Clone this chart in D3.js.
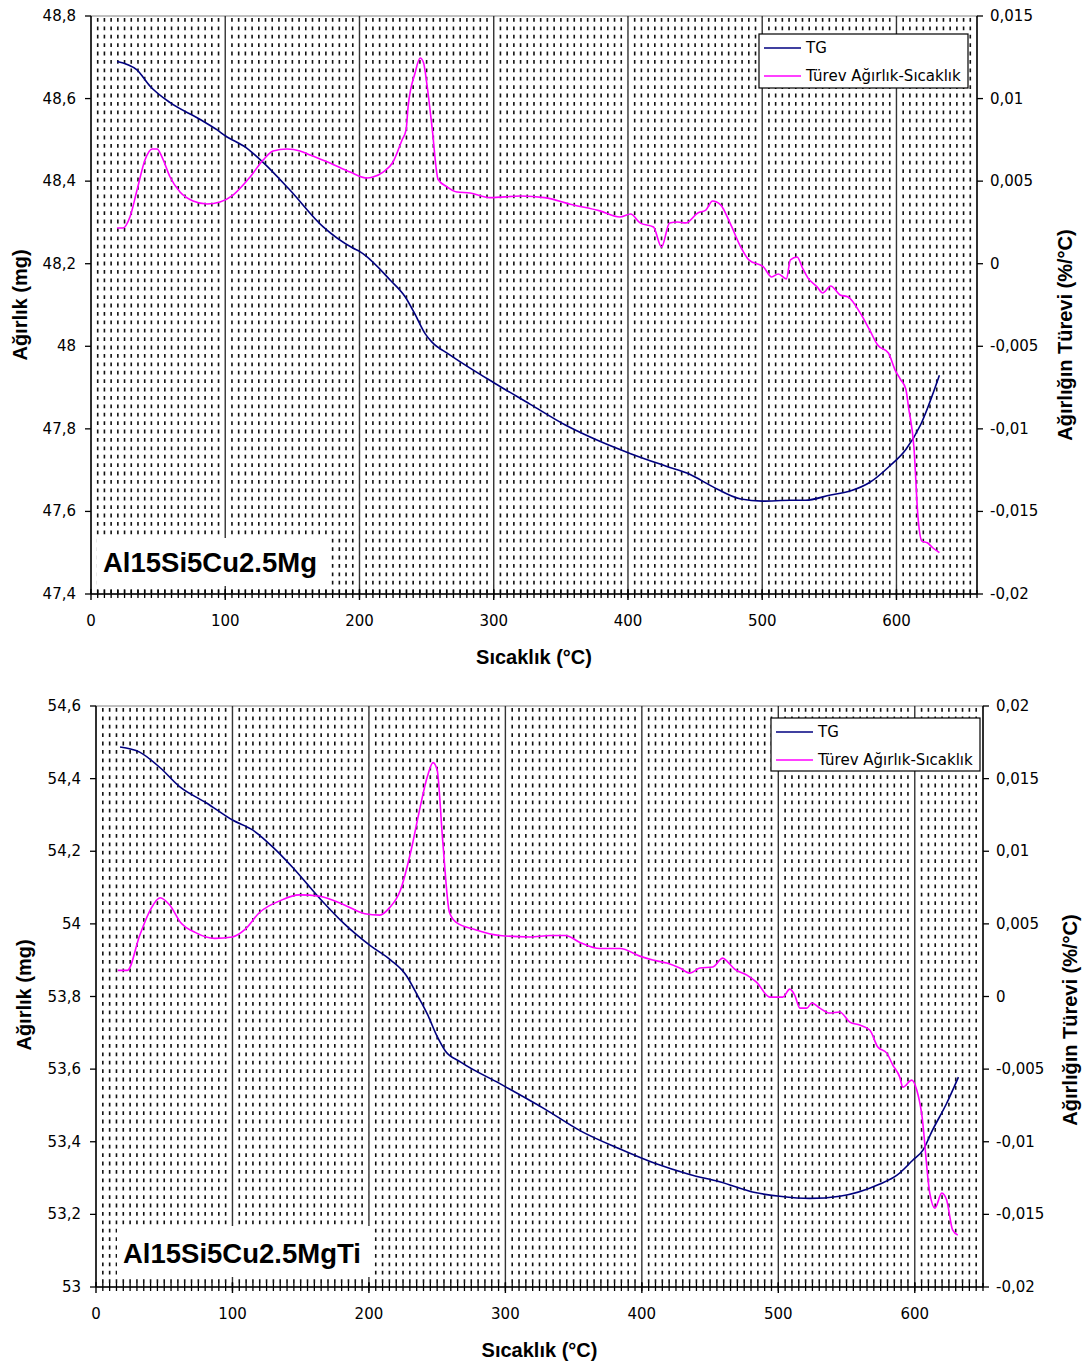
<!DOCTYPE html>
<html>
<head>
<meta charset="utf-8">
<script src="https://cdn.jsdelivr.net/npm/d3@7"></script>
<style>
  html, body { margin: 0; padding: 0; background: #fff; }
  svg { display: block; font-family: "Liberation Sans", Arial, sans-serif; }
  .tick-label, .legend-label { font-family: "DejaVu Sans", Verdana, sans-serif; }
</style>
</head>
<body>
<svg id="chart" width="1087" height="1365"></svg>
<script>
// ---- Sample 1: Al15Si5Cu2.5Mg ----
const tgTemp1 = [19.4, 34, 44, 59, 81, 94, 100, 116, 128, 148, 173, 195, 200, 223, 234, 241, 249, 254, 267, 301, 327, 353, 379, 402, 428, 446, 463, 484, 500, 521, 532, 551, 566, 580, 595, 607, 618, 632];
const tgMass1 = [48.69, 48.67, 48.63, 48.59, 48.55, 48.524, 48.51, 48.48, 48.446, 48.379, 48.289, 48.238, 48.23, 48.16, 48.12, 48.08, 48.03, 48.01, 47.98, 47.91, 47.86, 47.81, 47.77, 47.74, 47.71, 47.69, 47.66, 47.63, 47.625, 47.627, 47.627, 47.64, 47.65, 47.67, 47.71, 47.75, 47.81, 47.93];
const dtgTemp1 = [19.4, 23.8, 29, 34.3, 40.2, 45.5, 49.2, 52.9, 58.9, 66.3, 76, 86.4, 96.1, 105.8, 118.5, 128.2, 135.6, 146, 155.7, 163.2, 178, 193, 205.7, 210, 217.6, 225, 231.7, 234.7, 236.2, 241.4, 245.2, 247.6, 250.5, 254, 258.6, 265.3, 272.7, 282.4, 297, 320, 338, 357, 379, 394, 402, 409, 419, 425, 431, 437, 443, 452, 458, 463, 469, 476, 484, 490, 501, 507, 512, 518, 521, 526, 530, 534, 541, 545, 551, 558, 564, 573, 580, 586, 594, 599, 603, 607, 609, 613, 616, 619, 623, 627, 632];
const dtgRate1 = [0.00216, 0.00216, 0.00283, 0.00446, 0.00628, 0.00695, 0.00695, 0.00646, 0.00525, 0.00434, 0.0038, 0.00362, 0.00374, 0.00416, 0.00525, 0.00628, 0.00683, 0.00695, 0.00683, 0.00658, 0.0061, 0.00555, 0.00519, 0.00525, 0.00555, 0.00616, 0.00749, 0.0081, 0.00949, 0.01155, 0.01246, 0.0122, 0.0107, 0.0083, 0.0051, 0.00465, 0.00434, 0.00428, 0.004, 0.0041, 0.004, 0.0036, 0.0032, 0.00283, 0.00301, 0.00247, 0.00222, 0.00101, 0.00247, 0.00253, 0.00247, 0.00307, 0.00325, 0.0038, 0.00356, 0.00247, 0.00101, 0.00023, -0.0002, -0.0008, -0.00062, -0.00092, 0.00023, 0.00041, -0.00026, -0.00086, -0.00141, -0.00177, -0.00135, -0.00189, -0.00201, -0.00298, -0.00401, -0.00492, -0.00541, -0.00644, -0.007, -0.0076, -0.0087, -0.0111, -0.0153, -0.0168, -0.0169, -0.0172, -0.0175];

// ---- Sample 2: Al15Si5Cu2.5MgTi ----
const tgTemp2 = [17.6, 32, 47, 61.5, 81, 100, 115, 130, 144, 164, 182, 201, 216, 227, 236, 243, 250, 256, 267, 296, 329, 355, 384, 410, 435, 457, 483, 501, 523, 545, 574, 587, 598.5, 606, 613, 623.4, 632];
const tgMass2 = [54.487, 54.473, 54.43, 54.377, 54.333, 54.286, 54.258, 54.21, 54.156, 54.07, 54.0, 53.94, 53.9, 53.86, 53.8, 53.75, 53.69, 53.65, 53.62, 53.56, 53.49, 53.43, 53.38, 53.34, 53.31, 53.29, 53.26, 53.25, 53.244, 53.25, 53.283, 53.308, 53.349, 53.377, 53.432, 53.506, 53.578];
const dtgTemp2 = [16, 23, 32, 40, 47, 54, 62, 73, 87, 100, 109, 120, 135, 149, 164, 182, 197, 208, 215, 223, 231, 237, 243, 247, 250, 254, 259, 264, 278, 296, 318, 333, 344, 355, 369, 384, 398.5, 408, 418.3, 427.8, 435.2, 442.5, 452, 459.3, 463, 468, 477, 484, 493.8, 503.3, 508.4, 512, 515.8, 520.9, 524.5, 530.4, 537.7, 545, 552.4, 559.7, 567, 572.9, 579.5, 583.9, 589, 591.2, 597.8, 601.5, 605, 611, 614.7, 619.8, 623.4, 627.8, 631.5];
const dtgRate2 = [0.0018, 0.0018, 0.0042, 0.006, 0.0068, 0.0063, 0.0051, 0.0044, 0.004, 0.0041, 0.0046, 0.0058, 0.0066, 0.007, 0.0069, 0.0063, 0.0057, 0.0056, 0.0061, 0.0073, 0.0101, 0.0128, 0.0152, 0.0161, 0.0156, 0.0108, 0.0058, 0.0051, 0.0046, 0.0042, 0.0041, 0.0042, 0.0042, 0.0037, 0.0033, 0.0033, 0.00278, 0.00251, 0.0023, 0.00196, 0.00161, 0.00196, 0.00203, 0.00264, 0.00237, 0.00189, 0.00147, 0.00099, -0.00004, -0.00004, 0.00051, 0.0001, -0.0008, -0.0008, -0.00045, -0.0008, -0.00114, -0.00107, -0.00176, -0.00197, -0.00231, -0.00348, -0.0039, -0.00472, -0.00555, -0.00624, -0.00576, -0.00645, -0.00803, -0.01354, -0.01457, -0.01354, -0.01402, -0.01609, -0.01643];

// ---- Axis ticks and labels ----
const tempTicks = [0, 100, 200, 300, 400, 500, 600];
const tempTickLabels = ["0", "100", "200", "300", "400", "500", "600"];
const massTicks1 = [47.4, 47.6, 47.8, 48.0, 48.2, 48.4, 48.6, 48.8];
const massTickLabels1 = ["47,4", "47,6", "47,8", "48", "48,2", "48,4", "48,6", "48,8"];
const rateTicks1 = [-0.02, -0.015, -0.01, -0.005, 0, 0.005, 0.01, 0.015];
const rateTickLabels1 = ["-0,02", "-0,015", "-0,01", "-0,005", "0", "0,005", "0,01", "0,015"];
const massTicks2 = [53.0, 53.2, 53.4, 53.6, 53.8, 54.0, 54.2, 54.4, 54.6];
const massTickLabels2 = ["53", "53,2", "53,4", "53,6", "53,8", "54", "54,2", "54,4", "54,6"];
const rateTicks2 = [-0.02, -0.015, -0.01, -0.005, 0, 0.005, 0.01, 0.015, 0.02];
const rateTickLabels2 = ["-0,02", "-0,015", "-0,01", "-0,005", "0", "0,005", "0,01", "0,015", "0,02"];

const seriesNames = ["TG", "Türev Ağırlık-Sıcaklık"];
const xTitle = "Sıcaklık (°C)";
const yTitleLeft = "Ağırlık (mg)";
const yTitleRight = "Ağırlığın Türevi (%/°C)";

const TG_COLOR = "#000080";
const DTG_COLOR = "#ff00ff";

const svg = d3.select("#chart");

function drawPanel(p) {
  const g = svg.append("g");
  const x = d3.scaleLinear().domain([0, p.tMax]).range([p.left, p.right]);
  const yM = d3.scaleLinear().domain(p.massDomain).range([p.bottom, p.top]);
  const yR = d3.scaleLinear().domain(p.rateDomain).range([p.bottom, p.top]);

  // plot area
  g.append("rect")
    .attr("x", p.left).attr("y", p.top)
    .attr("width", p.right - p.left).attr("height", p.bottom - p.top)
    .attr("fill", "#fff").attr("stroke", "#808080").attr("stroke-width", 1);

  // minor vertical gridlines every 5 °C (dashed)
  const minor = d3.range(5, p.tMax, 5).filter(v => v % 100 !== 0);
  g.append("g").selectAll("line").data(minor).join("line")
    .attr("x1", d => x(d)).attr("x2", d => x(d))
    .attr("y1", p.top + 2).attr("y2", p.bottom)
    .attr("stroke", "#111").attr("stroke-width", 1.6)
    .attr("stroke-dasharray", "3.8,4.6");

  // major vertical gridlines every 100 °C
  g.append("g").selectAll("line").data(tempTicks.filter(v => v > 0)).join("line")
    .attr("x1", d => x(d)).attr("x2", d => x(d))
    .attr("y1", p.top).attr("y2", p.bottom)
    .attr("stroke", "#333").attr("stroke-width", 1.4);

  // data lines
  const tgLine = d3.line().x(d => x(d[0])).y(d => yM(d[1])).curve(d3.curveMonotoneX);
  const dtgLine = d3.line().x(d => x(d[0])).y(d => yR(d[1])).curve(d3.curveMonotoneX);
  g.append("path").datum(d3.zip(p.tgT, p.tgM)).attr("d", tgLine)
    .attr("fill", "none").attr("stroke", TG_COLOR).attr("stroke-width", 1.6);
  g.append("path").datum(d3.zip(p.dT, p.dR)).attr("d", dtgLine)
    .attr("fill", "none").attr("stroke", DTG_COLOR).attr("stroke-width", 1.6);

  // bottom axis: major + minor ticks crossing the axis line
  const axX = g.append("g");
  axX.append("line").attr("x1", p.left).attr("x2", p.right)
    .attr("y1", p.bottom).attr("y2", p.bottom).attr("stroke", "#000").attr("stroke-width", 1.5);
  axX.selectAll("line.mn").data(d3.range(5, p.tMax + 1, 5)).join("line").attr("class", "mn")
    .attr("x1", d => x(d)).attr("x2", d => x(d))
    .attr("y1", p.bottom - 4).attr("y2", p.bottom + 4)
    .attr("stroke", "#000").attr("stroke-width", 1.3);
  axX.selectAll("line.mj").data(tempTicks).join("line").attr("class", "mj")
    .attr("x1", d => x(d)).attr("x2", d => x(d))
    .attr("y1", p.bottom - 5).attr("y2", p.bottom + 6)
    .attr("stroke", "#000").attr("stroke-width", 1.4);
  axX.selectAll("text").data(tempTicks).join("text").attr("class", "tick-label")
    .attr("x", d => x(d)).attr("y", p.bottom + 32)
    .attr("text-anchor", "middle").attr("font-size", 15).attr("fill", "#000")
    .text((d, i) => tempTickLabels[i]);

  // left axis (mass)
  const axL = g.append("g");
  axL.append("line").attr("x1", p.left).attr("x2", p.left)
    .attr("y1", p.top).attr("y2", p.bottom).attr("stroke", "#000").attr("stroke-width", 1.5);
  axL.selectAll("line.t").data(p.massTicks).join("line").attr("class", "t")
    .attr("x1", p.left - 6).attr("x2", p.left)
    .attr("y1", d => yM(d)).attr("y2", d => yM(d)).attr("stroke", "#000").attr("stroke-width", 1.3);
  axL.selectAll("text").data(p.massTicks).join("text").attr("class", "tick-label")
    .attr("x", p.left - 15).attr("y", d => yM(d) + 5)
    .attr("text-anchor", "end").attr("font-size", 15).attr("fill", "#000")
    .text((d, i) => p.massLabels[i]);

  // right axis (derivative)
  const axR = g.append("g");
  axR.append("line").attr("x1", p.right).attr("x2", p.right)
    .attr("y1", p.top).attr("y2", p.bottom).attr("stroke", "#000").attr("stroke-width", 1.5);
  axR.selectAll("line.t").data(p.rateTicks).join("line").attr("class", "t")
    .attr("x1", p.right).attr("x2", p.right + 6)
    .attr("y1", d => yR(d)).attr("y2", d => yR(d)).attr("stroke", "#000").attr("stroke-width", 1.3);
  axR.selectAll("text").data(p.rateTicks).join("text").attr("class", "tick-label")
    .attr("x", p.right + 13).attr("y", d => yR(d) + 5)
    .attr("text-anchor", "start").attr("font-size", 15).attr("fill", "#000")
    .text((d, i) => p.rateLabels[i]);

  // axis titles
  g.append("text").attr("x", (p.left + p.right) / 2 + p.xTitleDx).attr("y", p.bottom + 70)
    .attr("text-anchor", "middle").attr("font-size", 20).attr("font-weight", "bold")
    .text(xTitle);
  g.append("text")
    .attr("transform", `translate(${p.leftTitleX},${p.leftTitleY}) rotate(-90)`)
    .attr("text-anchor", "middle").attr("font-size", 20).attr("font-weight", "bold")
    .text(yTitleLeft);
  g.append("text")
    .attr("transform", `translate(${p.rightTitleX},${p.rightTitleY}) rotate(-90)`)
    .attr("text-anchor", "middle").attr("font-size", 20).attr("font-weight", "bold")
    .text(yTitleRight);

  // sample name box
  g.append("rect").attr("x", p.tag.x).attr("y", p.tag.y)
    .attr("width", p.tag.w).attr("height", p.tag.h).attr("fill", "#fff");
  g.append("text").attr("x", p.tag.x + 6).attr("y", p.tag.y + p.tag.h - 14)
    .attr("font-size", 27.5).attr("font-weight", "bold").attr("fill", "#000")
    .text(p.tag.text);

  // legend
  const lg = g.append("g").attr("transform", `translate(${p.legend.x},${p.legend.y})`);
  lg.append("rect").attr("width", p.legend.w).attr("height", p.legend.h)
    .attr("fill", "#fff").attr("stroke", "#000").attr("stroke-width", 1.2);
  [TG_COLOR, DTG_COLOR].forEach((c, i) => {
    const yy = 14 + i * 28;
    lg.append("line").attr("x1", 5).attr("x2", 42).attr("y1", yy).attr("y2", yy)
      .attr("stroke", c).attr("stroke-width", 1.6);
    lg.append("text").attr("class", "legend-label")
      .attr("x", 47).attr("y", yy + 5).attr("font-size", 15).attr("fill", "#000")
      .text(seriesNames[i]);
  });
}

drawPanel({
  left: 91, right: 977, top: 16, bottom: 594, tMax: 660,
  massDomain: [47.4, 48.8], rateDomain: [-0.02, 0.015],
  massTicks: massTicks1, massLabels: massTickLabels1,
  rateTicks: rateTicks1, rateLabels: rateTickLabels1,
  tgT: tgTemp1, tgM: tgMass1, dT: dtgTemp1, dR: dtgRate1,
  xTitleDx: 0, leftTitleX: 27, leftTitleY: 305, rightTitleX: 1072, rightTitleY: 335,
  tag: { x: 97, y: 538, w: 230, h: 48, text: "Al15Si5Cu2.5Mg" },
  legend: { x: 759, y: 34, w: 209, h: 54 }
});

drawPanel({
  left: 96, right: 983, top: 706, bottom: 1287, tMax: 650,
  massDomain: [53.0, 54.6], rateDomain: [-0.02, 0.02],
  massTicks: massTicks2, massLabels: massTickLabels2,
  rateTicks: rateTicks2, rateLabels: rateTickLabels2,
  tgT: tgTemp2, tgM: tgMass2, dT: dtgTemp2, dR: dtgRate2,
  xTitleDx: 0, leftTitleX: 31, leftTitleY: 995, rightTitleX: 1077, rightTitleY: 1020,
  tag: { x: 117, y: 1226, w: 256, h: 51, text: "Al15Si5Cu2.5MgTi" },
  legend: { x: 771, y: 718, w: 209, h: 53 }
});
</script>
</body>
</html>
